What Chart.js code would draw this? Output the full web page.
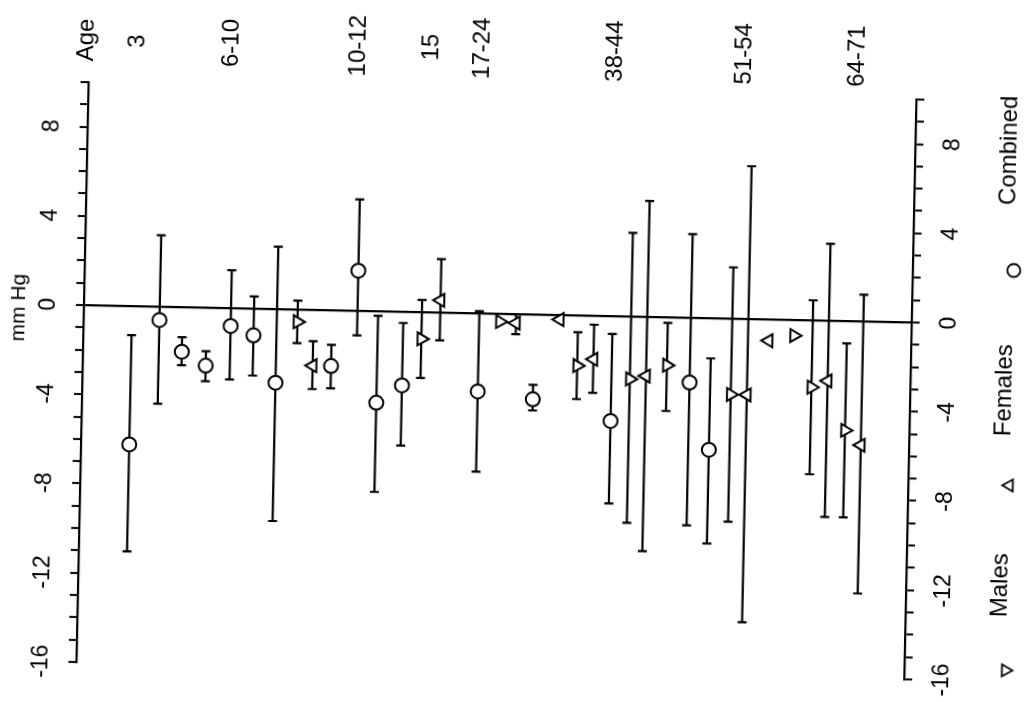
<!DOCTYPE html>
<html>
<head>
<meta charset="utf-8">
<title>mm Hg by age group</title>
<script src="https://cdn.jsdelivr.net/npm/chart.js@4/dist/chart.umd.min.js"></script>
<style>
  html, body { margin: 0; padding: 0; background: #fff; overflow: hidden; }
  #c { display: block; transform: rotate(1.2deg); transform-origin: 50% 50%; }
</style>
</head>
<body>
<canvas id="c" width="1024" height="702"></canvas>
<script>
// age group labels along the top and where they sit on the x scale
var ageLabels = ['Age', '3', '6-10', '10-12', '15', '17-24', '38-44', '51-54', '64-71'];
var agePos = [-0.1, 2.1, 6.2, 11.7, 14.9, 17.1, 22.9, 28.5, 33.4];

// combined
var combPos  = [2.1, 3.3, 4.3, 5.35, 6.4, 7.4, 8.4, 10.8, 11.9, 12.8, 13.9, 17.2, 19.6, 23.0, 26.4, 27.3];
var combMean = [-6.2, -0.6, -2.0, -2.6, -0.8, -1.2, -3.3, -2.5, 1.8, -4.1, -3.3, -3.5, -3.8, -4.7, -2.9, -5.9];
var combLo   = [-11.0, -4.35, -2.6, -3.3, -3.2, -3.0, -9.5, -3.5, -1.1, -8.1, -6.0, -7.1, -4.3, -8.4, -9.3, -10.1];
var combHi   = [-1.3, 3.2, -1.35, -1.95, 1.7, 0.55, 2.8, -1.55, 5.0, -0.2, -0.5, 0.1, -3.15, -0.8, 3.75, -1.8];

// females
var femPos  = [10.0, 15.5, 18.8, 20.7, 22.2, 24.5, 28.9, 29.8, 32.4, 33.9];
var femMean = [-2.5, 0.55, -0.4, -0.2, -1.95, -2.65, -3.4, -0.95, -2.7, -5.55];
var femLo   = [-3.55, -1.25, -0.9, null, -3.45, -10.5, -13.6, null, -8.8, -12.2];
var femHi   = [-1.4, 2.4, 0.0, null, -0.4, 5.2, 6.85, null, 3.45, 1.2];

// males
var malePos  = [9.3, 14.7, 18.1, 21.5, 23.8, 25.4, 28.2, 30.9, 31.7, 33.2];
var maleMean = [-0.55, -1.2, -0.35, -2.25, -2.8, -2.15, -3.4, -0.7, -3.0, -4.9];
var maleLo   = [-1.5, -2.95, null, -3.75, -9.25, -4.2, -9.1, null, -6.9, -8.8];
var maleHi   = [0.4, 0.55, null, -0.75, 3.75, -0.25, 2.3, null, 0.9, -1.0];

var FONT = 'Arial, "Liberation Sans", sans-serif';

function points(pos, mean, lo, hi) {
    return pos.map(function (p, i) {
        return { x: p, y: mean[i], lo: lo[i], hi: hi[i] };
    });
}

// whiskers with caps, drawn under the markers
var errorBars = {
    id: 'errorBars',
    beforeDatasetsDraw: function (chart) {
        var ctx = chart.ctx, x = chart.scales.x, y = chart.scales.y;
        ctx.save();
        ctx.strokeStyle = '#000';
        ctx.lineWidth = 2.2;
        chart.data.datasets.forEach(function (ds) {
            ds.data.forEach(function (p) {
                if (p.lo == null) return;
                var px = x.getPixelForValue(p.x);
                var y1 = y.getPixelForValue(p.lo);
                var y2 = y.getPixelForValue(p.hi);
                ctx.beginPath();
                ctx.moveTo(px, y1); ctx.lineTo(px, y2);
                ctx.moveTo(px - 4.5, y1); ctx.lineTo(px + 4.5, y1);
                ctx.moveTo(px - 4.5, y2); ctx.lineTo(px + 4.5, y2);
                ctx.stroke();
            });
        });
        ctx.restore();
    }
};

function vtext(ctx, str, px, py, size) {
    ctx.save();
    ctx.translate(px, py);
    ctx.rotate(-Math.PI / 2);
    ctx.font = size + 'px ' + FONT;
    ctx.fillStyle = '#000';
    ctx.textAlign = 'center';
    ctx.textBaseline = 'middle';
    ctx.fillText(str, 0, 0);
    ctx.restore();
}

// rotated age labels, axis title and legend
var sideText = {
    id: 'sideText',
    afterDraw: function (chart) {
        var ctx = chart.ctx, x = chart.scales.x;
        ageLabels.forEach(function (t, i) {
            vtext(ctx, t, x.getPixelForValue(agePos[i]), 49, 24);
        });
        vtext(ctx, 'mm Hg', 18, 318, 21);

        var slots = [
            { ds: 0, text: 140, sym: 260 },
            { ds: 1, text: 380, sym: 475 },
            { ds: 2, text: 575, sym: 660 }
        ];
        slots.forEach(function (s) {
            var ds = chart.data.datasets[s.ds];
            vtext(ctx, ds.label, 1005, s.text, 24);
            ctx.save();
            ctx.strokeStyle = '#000';
            ctx.fillStyle = '#fff';
            ctx.lineWidth = 1.8;
            Chart.helpers.drawPoint(ctx, {
                pointStyle: ds.pointStyle,
                radius: ds.pointRadius - 0.5,
                rotation: ds.rotation || 0,
                borderWidth: 1.8
            }, 1012, s.sym);
            ctx.restore();
        });
    }
};

function yAxis(pos, width, pad, zeroLine) {
    return {
        position: pos,
        min: -16,
        max: 10,
        ticks: {
            stepSize: 1,
            autoSkip: false,
            minRotation: 90,
            maxRotation: 90,
            crossAlign: 'center',
            padding: pad,
            color: '#000',
            font: { size: 23, family: FONT },
            callback: function (v) { return v % 4 === 0 ? String(v) : ''; }
        },
        grid: {
            drawOnChartArea: zeroLine,
            color: function (c) { return c.tick && c.tick.value === 0 ? '#000' : 'rgba(0,0,0,0)'; },
            lineWidth: 2.2,
            tickColor: '#000',
            tickLength: 8,
            tickWidth: 2
        },
        border: { display: true, color: '#000', width: 2.2 },
        afterFit: function (s) { s.width = width; }
    };
}

new Chart(document.getElementById('c').getContext('2d'), {
    type: 'scatter',
    data: {
        datasets: [{
            label: 'Combined',
            data: points(combPos, combMean, combLo, combHi),
            pointStyle: 'circle',
            pointRadius: 7,
            borderColor: '#000',
            backgroundColor: '#fff',
            borderWidth: 2
        }, {
            label: 'Females',
            data: points(femPos, femMean, femLo, femHi),
            pointStyle: 'triangle',
            rotation: -90,
            pointRadius: 7.5,
            borderColor: '#000',
            backgroundColor: '#fff',
            borderWidth: 2
        }, {
            label: 'Males',
            data: points(malePos, maleMean, maleLo, maleHi),
            pointStyle: 'triangle',
            rotation: 90,
            pointRadius: 7.5,
            borderColor: '#000',
            backgroundColor: '#fff',
            borderWidth: 2
        }]
    },
    options: {
        responsive: false,
        animation: false,
        devicePixelRatio: 1,
        layout: { padding: { top: 91, bottom: 31, left: 0, right: 0 } },
        plugins: {
            legend: { display: false },
            tooltip: { enabled: false }
        },
        scales: {
            x: { type: 'linear', min: 0, max: 36, display: false },
            y: yAxis('left', 83, 11, true),
            y2: yAxis('right', 113, 13, false)
        }
    },
    plugins: [errorBars, sideText]
});
</script>
</body>
</html>
